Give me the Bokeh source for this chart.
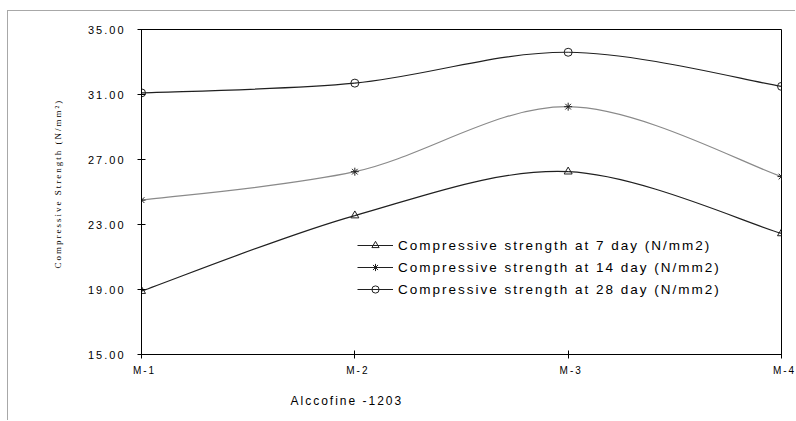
from bokeh.plotting import figure
from bokeh.models import (FixedTicker, NumeralTickFormatter, Legend, LegendItem,
                          Title, ColumnDataSource)
from bokeh.embed import file_html
from bokeh.resources import INLINE

# ---- data ----
categories = ["M-1", "M-2", "M-3", "M-4"]
day7 = [18.9, 23.55, 26.25, 22.45]
day14 = [24.5, 26.25, 30.25, 25.95]
day28 = [31.1, 31.7, 33.6, 31.5]
series_names = ["Compressive strength at 7 day (N/mm2)",
                "Compressive strength at 14 day (N/mm2)",
                "Compressive strength at 28 day (N/mm2)"]
y_ticks = [15, 19, 23, 27, 31, 35]
x_title = "Alccofine -1203"
y_title = "Compressive Strength (N/mm²)"

FONT = "Liberation Sans"
xs = list(range(len(categories)))

p = figure(width=788, height=410, output_backend="svg", toolbar_location=None,
           x_range=(0, len(categories) - 1), y_range=(15, 35),
           min_border_left=133, min_border_right=15, min_border_top=18,
           min_border_bottom=67)
p.margin = (10, 0, 0, 7)
p.styles = {"border-left": "1px solid #a8a8a8", "border-top": "1px solid #a8a8a8",
            "letter-spacing": "2px"}
p.grid.visible = False
p.outline_line_color = "black"
p.outline_line_width = 1
p.background_fill_color = "white"
p.border_fill_color = "white"

for ax in (p.xaxis[0], p.yaxis[0]):
    ax.axis_line_color = "black"
    ax.major_tick_line_color = "black"
    ax.major_tick_in = 4
    ax.major_tick_out = 4
    ax.minor_tick_line_color = None
    ax.major_label_text_font = FONT
    ax.major_label_text_color = "#000000"

p.xaxis.ticker = FixedTicker(ticks=xs)
p.xaxis.major_label_overrides = {i: c for i, c in enumerate(categories)}
p.xaxis.major_label_text_font_size = "10px"
p.xaxis.major_label_standoff = 6
p.yaxis.ticker = FixedTicker(ticks=y_ticks)
p.yaxis.formatter = NumeralTickFormatter(format="0.00")
p.yaxis.major_label_text_font_size = "11px"
p.yaxis.major_label_standoff = 22


def smooth_segments(ys):
    """Bezier control points (Excel-like smoothing) from the data points."""
    n = len(ys)
    x0, y0, x1, y1, cx0, cy0, cx1, cy1 = [], [], [], [], [], [], [], []
    for i in range(n - 1):
        im1 = max(i - 1, 0)
        ip2 = min(i + 2, n - 1)
        x0.append(xs[i]); y0.append(ys[i])
        x1.append(xs[i + 1]); y1.append(ys[i + 1])
        cx0.append(xs[i] + (xs[i + 1] - xs[im1]) / 6)
        cy0.append(ys[i] + (ys[i + 1] - ys[im1]) / 6)
        cx1.append(xs[i + 1] - (xs[ip2] - xs[i]) / 6)
        cy1.append(ys[i + 1] - (ys[ip2] - ys[i]) / 6)
    return dict(x0=x0, y0=y0, x1=x1, y1=y1, cx0=cx0, cy0=cy0, cx1=cx1, cy1=cy1)


styles = [(day7, "#202020", "triangle"), (day14, "#8a8a8a", "asterisk"),
          (day28, "#202020", "circle")]
items = []
nan = float("nan")
for (vals, col, mk), name in zip(styles, series_names):
    src = ColumnDataSource(smooth_segments(vals))
    p.bezier(x0="x0", y0="y0", x1="x1", y1="y1", cx0="cx0", cy0="cy0",
             cx1="cx1", cy1="cy1", source=src, line_color=col, line_width=1.2)
    dummy = p.line(x=[nan, nan], y=[nan, nan], line_color="#202020", line_width=1.2)
    sc = p.scatter(x=xs, y=vals, marker=mk, size=8, fill_color=None,
                   line_color="#202020", line_width=1)
    items.append(LegendItem(label=name, renderers=[dummy, sc]))

legend = Legend(items=items, location=(216, 56), glyph_width=36, glyph_height=18,
                spacing=4, label_standoff=5, padding=0, margin=0,
                border_line_color=None, background_fill_alpha=0,
                label_text_font=FONT, label_text_font_size="13.5px",
                label_text_color="#000000")
p.add_layout(legend, "center")

p.add_layout(Title(text=x_title, align="left", offset=149, standoff=27,
                   text_font=FONT, text_font_size="12px",
                   text_font_style="normal", text_color="#000000"), "below")
p.add_layout(Title(text=y_title, align="left", offset=86, standoff=43,
                   text_font="Liberation Sans Narrow", text_font_size="9px",
                   text_font_style="normal", text_color="#000000"), "left")

open("out.html", "w").write(file_html(p, INLINE))
